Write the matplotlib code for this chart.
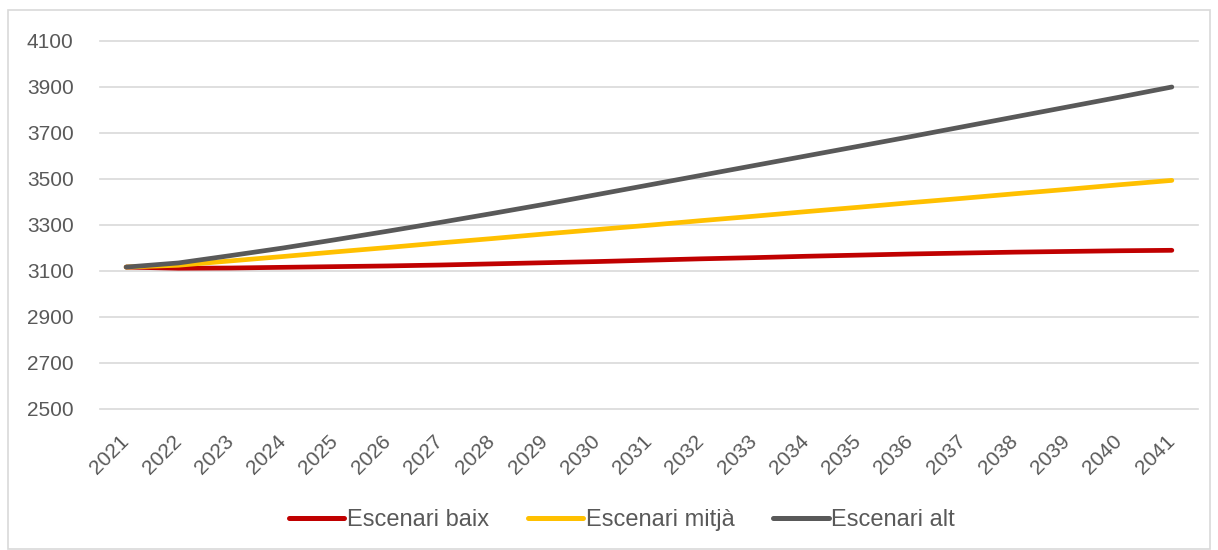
import matplotlib.pyplot as plt
from matplotlib.patches import Rectangle

years = list(range(2021, 2042))
baix = [3117, 3112, 3113, 3116, 3119, 3122, 3126, 3131, 3136, 3141, 3147,
        3153, 3158, 3164, 3169, 3174, 3178, 3182, 3185, 3188, 3190]
mitja = [3117, 3125, 3144, 3163, 3183, 3202, 3222, 3241, 3261, 3280, 3299,
         3319, 3338, 3358, 3377, 3397, 3416, 3436, 3455, 3475, 3494]
alt = [3117, 3135, 3167, 3200, 3236, 3273, 3311, 3350, 3390, 3432, 3474,
       3516, 3558, 3600, 3642, 3684, 3727, 3770, 3813, 3856, 3900]
yticks = list(range(2500, 4101, 200))

plt.rcParams['font.family'] = ['Liberation Sans', 'DejaVu Sans']
txt = '#595959'

fig = plt.figure(figsize=(12.18, 5.5), dpi=100)
ax = fig.add_axes([100/1218, 1 - 409/550, 1098/1218, 368/550])

ax.plot(years, baix, color='#C00000', lw=3.4, solid_capstyle='round', label='Escenari baix')
ax.plot(years, mitja, color='#FFC000', lw=3.4, solid_capstyle='round', label='Escenari mitjà')
ax.plot(years, alt, color='#595959', lw=3.4, solid_capstyle='round', label='Escenari alt')

ax.set_xlim(2020.5, 2041.5)
ax.set_ylim(2500, 4100)
ax.set_yticks(yticks)
ax.set_xticks(years)
ax.set_xticklabels([str(y) for y in years], rotation=45, ha='right', va='center',
                   rotation_mode='anchor')
ax.tick_params(axis='both', length=0, labelsize=15, labelcolor=txt)
ax.tick_params(axis='y', pad=19)
ax.tick_params(axis='x', pad=21)
ax.grid(axis='y', color='#D9D9D9', lw=1.2)
for g in ax.get_ygridlines():
    g.set_clip_on(False)
ax.set_axisbelow(True)
for s in ax.spines.values():
    s.set_visible(False)

leg = ax.legend(loc='center', bbox_to_anchor=(622 / 1218, (550 - 520) / 550), bbox_transform=fig.transFigure,
                ncol=3, frameon=False, fontsize=17, handlelength=2.35, handletextpad=0.1,
                columnspacing=1.65)
for t in leg.get_texts():
    t.set_color(txt)
for h in leg.get_lines():
    h.set_linewidth(3.6)
    h.set_solid_capstyle('round')

fig.patches.append(Rectangle((8/1218, 0.002), 1202/1218, 1 - 10/550 - 0.002, transform=fig.transFigure,
                             fill=False, edgecolor='#D9D9D9', lw=1.2))

fig.savefig('out.png', dpi=100)
